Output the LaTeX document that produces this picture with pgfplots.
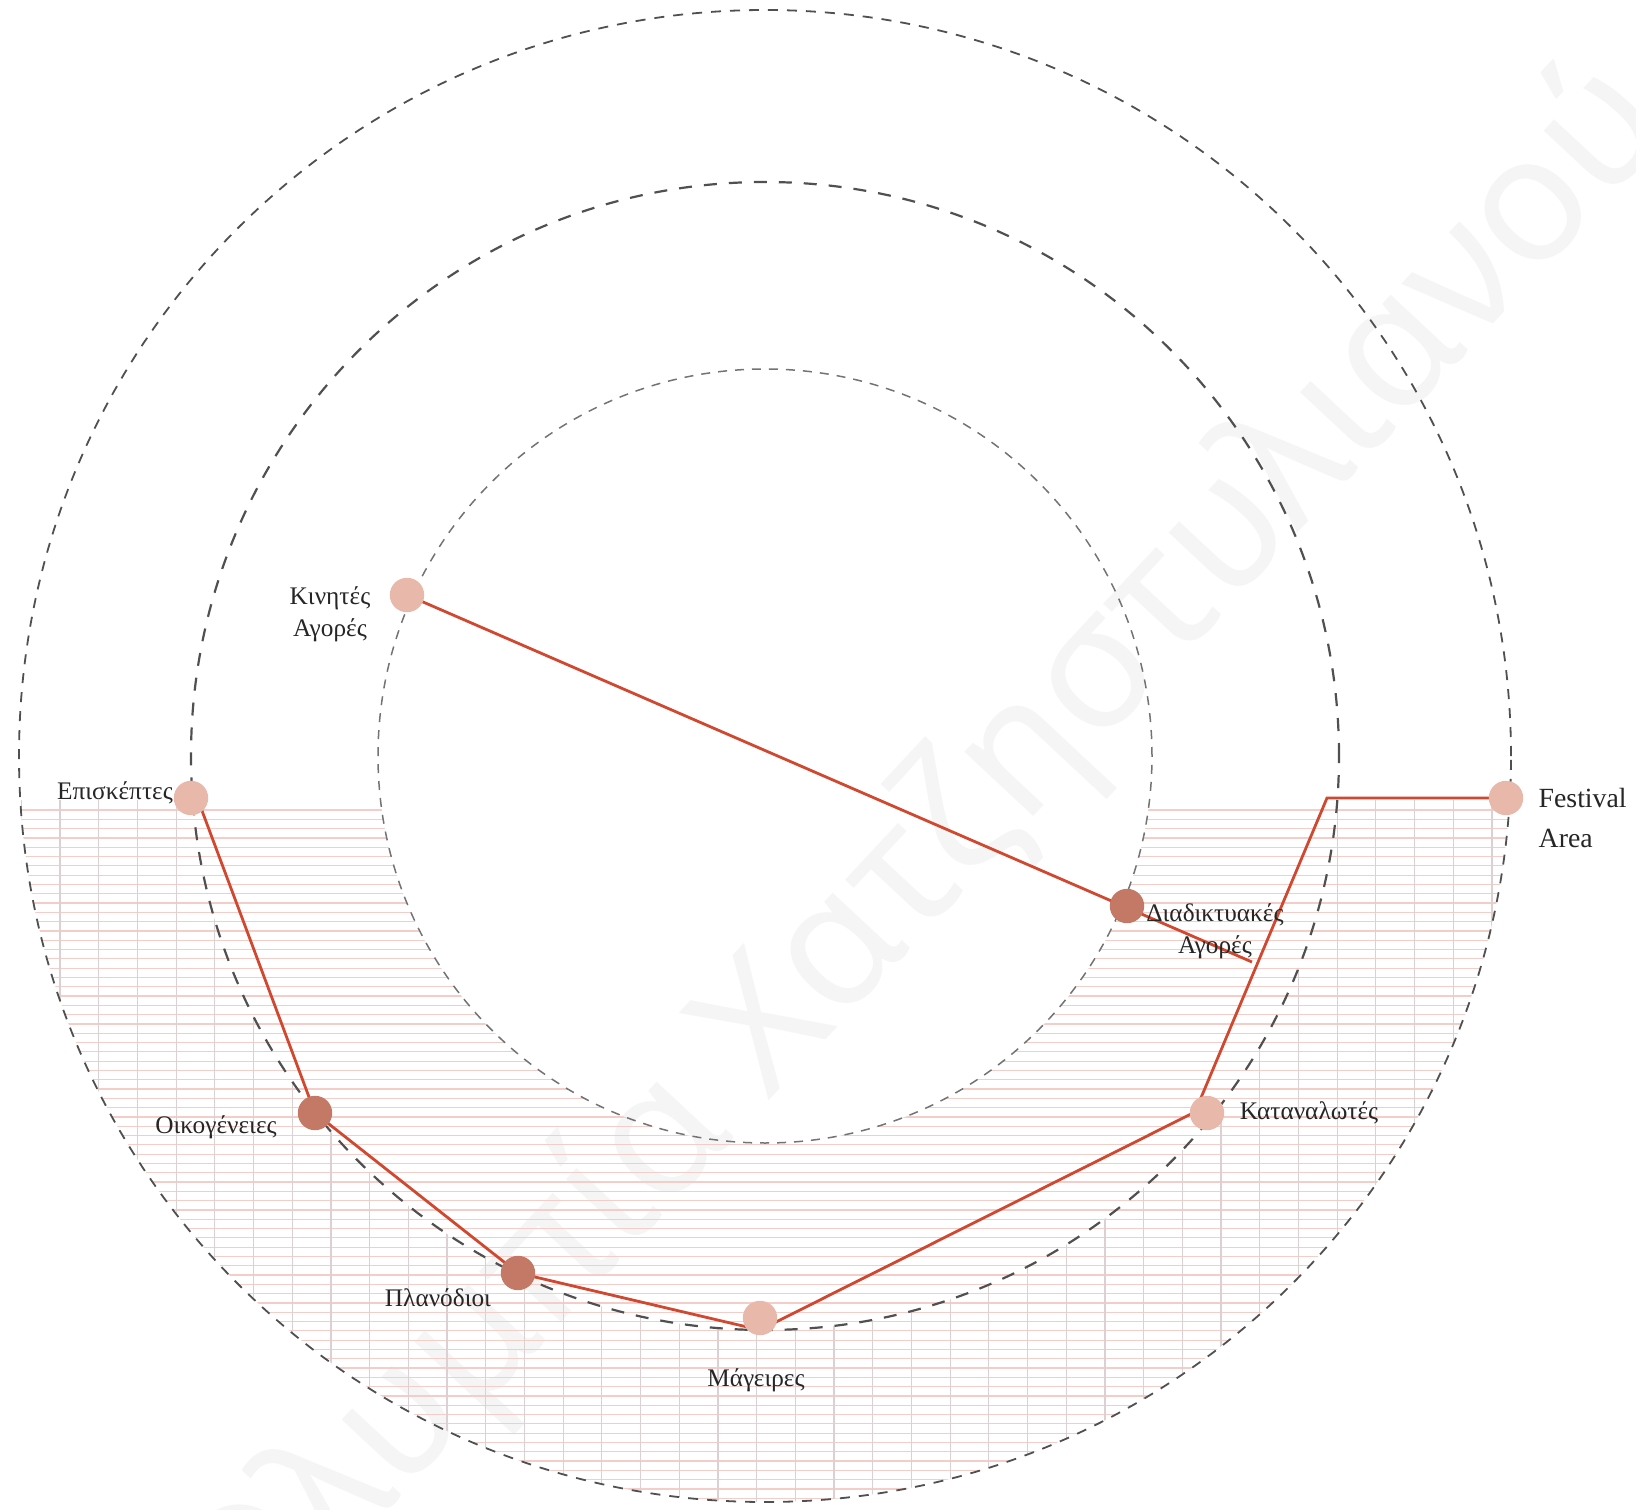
\documentclass[border=0pt]{standalone}
\usepackage{pgfplots}
\pgfplotsset{compat=1.18}
\usepackage{fontspec}
\setmainfont{Liberation Serif}
\newfontfamily\wmfont{Noto Sans}
\definecolor{redline}{RGB}{208,72,48}
\definecolor{lightmk}{RGB}{232,184,170}
\definecolor{darkmk}{RGB}{196,120,102}
\definecolor{hatchH}{RGB}{244,205,200}
\definecolor{hatchV}{RGB}{222,208,208}
\definecolor{ring}{RGB}{80,80,80}
\begin{document}
\begin{tikzpicture}
\begin{axis}[scale only axis, width=163.6mm, height=151mm,
  xmin=0, xmax=1636, ymin=0, ymax=1510, y dir=reverse, hide axis, clip=false]
% watermark
\node[rotate=47, anchor=base west, text=black!4, font=\wmfont\fontsize{50}{50}\selectfont] at (axis cs:760,1110) {\llap{Ολυμπία }Χατζηστυλιανού};
% hatching
\begin{scope}
\clip (axis cs:0,800) rectangle (axis cs:1636,1510);
\begin{scope}[even odd rule]
\clip (axis cs:765,756) circle[radius=74.6mm] (axis cs:765,756) circle[radius=38.7mm];
\pgfplotsinvokeforeach{810,819.3,...,1510}{\draw[hatchH, line width=0.12mm] (axis cs:0,#1) -- (axis cs:1636,#1);}
\end{scope}
\begin{scope}[even odd rule]
\clip (axis cs:765,756) circle[radius=74.6mm] (axis cs:765,756) circle[radius=57.4mm];
\pgfplotsinvokeforeach{21.3,60,...,1520}{\draw[hatchV, line width=0.12mm] (axis cs:#1,800) -- (axis cs:#1,1510);}
\end{scope}
\end{scope}
% rings
\draw[ring, line width=0.18mm, dash pattern=on 1mm off 0.9mm] (axis cs:765,756) circle[radius=74.6mm];
\draw[ring, line width=0.22mm, dash pattern=on 1.3mm off 1.2mm] (axis cs:765,756) circle[radius=57.4mm];
\draw[ring!80, line width=0.15mm, dash pattern=on 0.9mm off 0.8mm] (axis cs:765,756) circle[radius=38.7mm];
% markers
\addplot[only marks, mark=*, mark size=4.7pt, color=lightmk] coordinates {(407,595) (191,798) (760,1318) (1207,1113) (1506,798)};
\addplot[only marks, mark=*, mark size=4.7pt, color=darkmk] coordinates {(1127,906) (315,1113) (518,1273)};
% lines
\addplot[redline, line width=0.28mm, no marks] coordinates {(198,800) (315,1113) (518,1273) (760,1330) (1195,1112) (1327,798) (1506,798)};
\addplot[redline, line width=0.28mm, no marks] coordinates {(407,595) (1252,962)};
% labels
\begin{scope}[every node/.style={font=\fontsize{7.2}{9}\selectfont, align=center, text=black!85}]
\node at (axis cs:330,614) {Κινητές\\Αγορές};
\node at (axis cs:1215,931) {Διαδικτυακές\\Αγορές};
\node at (axis cs:115,793) {Επισκέπτες};
\node at (axis cs:216,1127) {Οικογένειες};
\node at (axis cs:438,1298) {Πλανόδιοι};
\node at (axis cs:756,1380) {Μάγειρες};
\node at (axis cs:1309,1113) {Καταναλωτές};
\end{scope}
\node[anchor=west, inner sep=0pt, align=left, font=\fontsize{7.9}{11.3}\selectfont, text=black!85] at (axis cs:1538,818) {Festival\\Area};
\end{axis}
\pgfresetboundingbox
\path (0,0) rectangle (163.6mm,151mm);
\end{tikzpicture}
\end{document}
